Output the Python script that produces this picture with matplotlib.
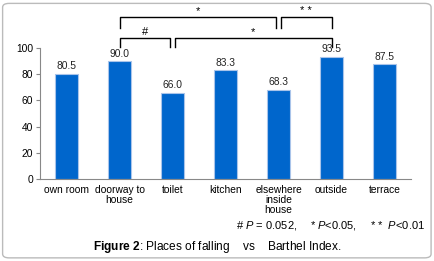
import matplotlib
matplotlib.use("Agg")
import matplotlib.pyplot as plt
from matplotlib.patches import FancyBboxPatch

plt.rcParams['font.family'] = ['Liberation Sans', 'DejaVu Sans']
plt.rcParams['mathtext.fontset'] = 'custom'
plt.rcParams['mathtext.it'] = 'Liberation Sans:italic'
plt.rcParams['mathtext.bf'] = 'Liberation Sans:bold'
plt.rcParams['mathtext.rm'] = 'Liberation Sans'

categories = ["own room", "doorway to\nhouse", "toilet", "kitchen",
              "elsewhere\ninside\nhouse", "outside", "terrace"]
values = [80.5, 90.0, 66.0, 83.3, 68.3, 93.5, 87.5]
yticks = [0, 20, 40, 60, 80, 100]
# significance brackets: (left index, right index, label, level, drop)
brackets = [(1, 4, "*", 123.7, 8.4), (4, 5, "* *", 123.7, 8.4),
            (1, 2, "#", 107.6, 6.9), (2, 5, "*", 107.6, 6.9)]
legend_parts = ["# $P$ = 0.052,", "* $P$<0.05,", "* *  $P$<0.01"]

fig = plt.figure(figsize=(4.35, 2.61), dpi=100)
ax = fig.add_axes([0.092, 0.314, 0.853, 0.502])
x = range(len(categories))
bars = ax.bar(x, values, width=0.42, color="#0066CC", edgecolor="#A9C4EA", linewidth=0.8)
for xi, v in zip(x, values):
    ax.text(xi, v + 1.8, f"{v:.1f}", ha="center", va="bottom", fontsize=7.4, color="#222222")
ax.set_xlim(-0.5, len(categories) - 0.5)
ax.set_ylim(0, 100)
ax.set_yticks(yticks)
ax.set_xticks(list(x))
ax.set_xticklabels(categories, fontsize=7.4, linespacing=1.0)
ax.tick_params(axis="y", labelsize=7.4, length=3, color="#888888", pad=2)
ax.tick_params(axis="x", length=0, pad=4)
for s in ["top", "right"]:
    ax.spines[s].set_visible(False)
for s in ["left", "bottom"]:
    ax.spines[s].set_color("#888888")
    ax.spines[s].set_linewidth(0.8)

for i, j, lab, lev, drop in brackets:
    xi = i + (0.04 if (i == 2 and lev < 110) or (i == 4 and lev > 110 and j == 5) else 0)
    xj = j - (0.04 if (j == 2) or (j == 4) else 0)
    ax.plot([xi, xi, xj, xj], [lev - drop, lev, lev, lev - drop], color="black",
            linewidth=1.0, clip_on=False)
    ax.text((xi + xj) / 2, lev + 1.0, lab, ha="center", va="bottom", fontsize=8,
            clip_on=False)

for xpos, part in zip([0.543, 0.713, 0.851], legend_parts):
    fig.text(xpos, 0.137, part, ha="left", va="center", fontsize=8)
fig.text(0.5, 0.055, r"$\bf{Figure\ 2}$: Places of falling    vs    Barthel Index.",
         ha="center", va="center", fontsize=8.6)

frame = FancyBboxPatch((0.006, 0.012), 0.985, 0.975, boxstyle="round,pad=0,rounding_size=0.015",
                       transform=fig.transFigure, fill=False, edgecolor="#BBBBBB", linewidth=1.0)
fig.patches.append(frame)

fig.savefig("out.png", dpi=100)
